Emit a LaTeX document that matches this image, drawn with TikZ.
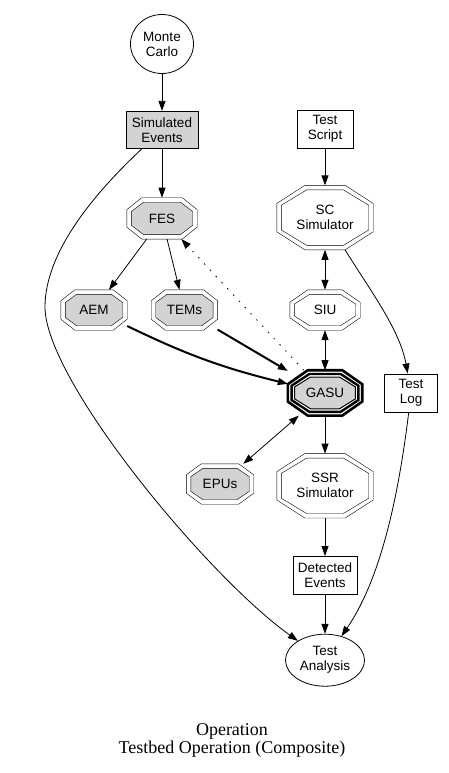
\documentclass[tikz,border=0pt]{standalone}
\usepackage{fontspec}
\setmainfont{Liberation Sans}
\newfontfamily\capfont{Liberation Serif}
\usepackage{tikz}
\usetikzlibrary{arrows.meta,positioning,shapes.geometric,backgrounds,calc}
\definecolor{shade}{RGB}{211,211,211}
% octagon round a node: [opts]{node}{inset}{chamfer x}{chamfer y}
\newcommand{\octa}[5][]{%
  \draw[#1] let \p1=(#2.north west), \p2=(#2.south east) in
    ({\x1+#4+0.4*#3},{\y1-#3}) -- ({\x2-#4-0.4*#3},{\y1-#3})
    -- ({\x2-#3},{\y1-#5-0.4*#3}) -- ({\x2-#3},{\y2+#5+0.4*#3})
    -- ({\x2-#4-0.4*#3},{\y2+#3}) -- ({\x1+#4+0.4*#3},{\y2+#3})
    -- ({\x1+#3},{\y2+#5+0.4*#3}) -- ({\x1+#3},{\y1-#5-0.4*#3}) -- cycle;}

\begin{document}
\begin{tikzpicture}[x=1pt, y=-1pt,
  base/.style={font=\fontsize{13.5}{15}\selectfont, align=center, inner sep=0pt},
  box/.style={base, draw, line width=0.8pt},
  oval/.style={base, draw, ellipse, line width=0.8pt},
  oct/.style={base},
  edge/.style={-{Triangle[length=10pt,width=7pt]}, line width=0.8pt},
  twoway/.style={edge, {Triangle[length=10pt,width=7pt]}-{Triangle[length=10pt,width=7pt]}},
  heavy/.style={edge, line width=2pt},
  dots/.style={edge, dash pattern=on 1.5pt off 7pt}]
  \useasboundingbox (0,0) rectangle (448,773);
  \node[oval, minimum width=63pt, minimum height=59pt] (mc) at (162,44) {Monte\\Carlo};
  \node[box, fill=shade, minimum width=72pt, minimum height=37pt, below=37pt of mc] (sim) {Simulated\\Events};
  \node[oct, minimum width=70pt, minimum height=41pt, below=49pt of sim] (fes) {FES};
  \node[oct, minimum width=66pt, minimum height=40pt] (aem) at (94,310) {AEM};
  \node[oct, minimum width=66pt, minimum height=40pt, right=24pt of aem] (tems) {TEMs};
  \node[box, minimum width=56pt, minimum height=38pt] (ts) at (325,129) {Test\\Script};
  \node[oct, minimum width=96pt, minimum height=64pt, below=37pt of ts] (sc) {SC\\Simulator};
  \node[oct, minimum width=70pt, minimum height=40pt, below=40pt of sc] (siu) {SIU};
  \node[oct, minimum width=74pt, minimum height=45pt, below=40pt of siu] (gasu) {GASU};
  \node[box, minimum width=53pt, minimum height=38pt, right=22pt of gasu] (tl) {Test\\Log};
  \node[oct, minimum width=67pt, minimum height=40pt] (epus) at (220,484) {EPUs};
  \node[oct, minimum width=96pt, minimum height=64pt, below=38pt of gasu] (ssr) {SSR\\Simulator};
  \node[box, minimum width=64pt, minimum height=38pt, below=38pt of ssr] (det) {Detected\\Events};
  \node[oval, minimum width=79pt, minimum height=52pt, below=39pt of det] (ta) {Test\\Analysis};
  \node[align=center, inner sep=0pt, font=\capfont\fontsize{18}{18}\selectfont] (cap) at (232,740) {Operation\\Testbed Operation (Composite)};
  \begin{scope}[on background layer, line width=0.8pt]
    \octa{fes}{0}{15}{12} \octa[fill=shade]{fes}{4.5}{15}{12}
    \octa{aem}{0}{14}{11} \octa[fill=shade]{aem}{4.5}{14}{11}
    \octa{tems}{0}{14}{11} \octa[fill=shade]{tems}{4.5}{14}{11}
    \octa{epus}{0}{15}{11} \octa[fill=shade]{epus}{4.5}{15}{11}
    \octa{sc}{0}{28}{18} \octa{sc}{4.5}{28}{18}
    \octa{ssr}{0}{28}{18} \octa{ssr}{4.5}{28}{18}
    \octa{siu}{0}{18}{12.5} \octa{siu}{4.5}{18}{12.5}
    \octa[line width=2.6pt]{gasu}{0}{20}{14} \octa[line width=2.4pt]{gasu}{3.8}{20}{14}
    \octa[line width=1pt, fill=shade]{gasu}{6.8}{20}{14}
  \end{scope}
  \draw[edge] (mc) -- (sim); \draw[edge] (sim) -- (fes);
  \draw[edge] (sim) .. controls (98,190) and (45,250) .. (45,307) .. controls (45,380) and (207,576) .. (ta);
  \draw[edge] (fes) -- (aem); \draw[edge] (fes) -- (tems);
  \draw[dots] (gasu) -- (fes);
  \draw[heavy] (aem) to[bend right=6] (gasu); \draw[heavy] (tems) -- (gasu);
  \draw[edge] (ts) -- (sc); \draw[twoway] (sc) -- (siu); \draw[twoway] (siu) -- (gasu);
  \draw[edge] (sc) .. controls (370,290) and (400,330) .. (tl);
  \draw[twoway] (gasu) -- (epus); \draw[edge] (gasu) -- (ssr);
  \draw[edge] (ssr) -- (det); \draw[edge] (det) -- (ta);
  \draw[edge] (tl) .. controls (398,500) and (380,580) .. (ta);
\end{tikzpicture}
\end{document}
